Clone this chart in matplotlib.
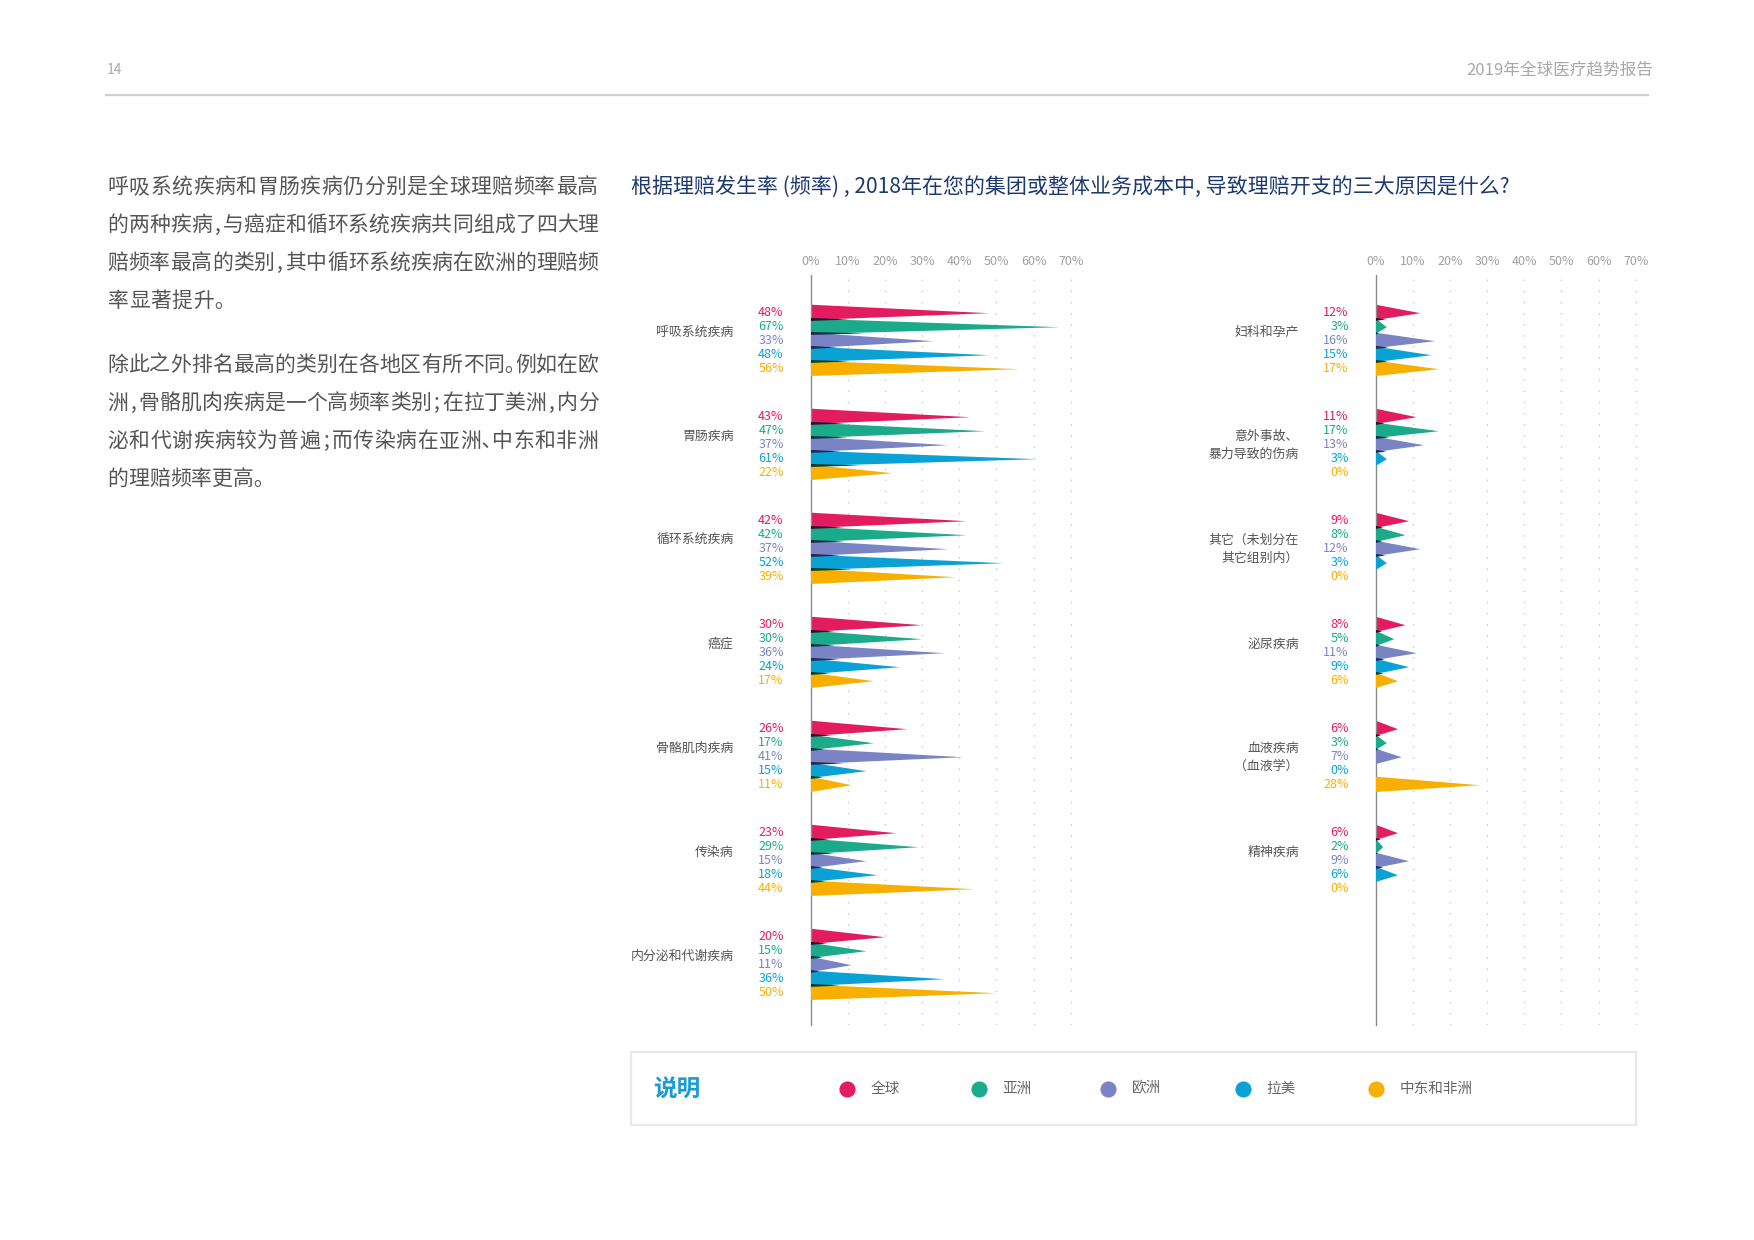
import matplotlib
matplotlib.use("Agg")
import matplotlib.pyplot as plt
import matplotlib.transforms as mtrans
from matplotlib.patches import Rectangle
from matplotlib.lines import Line2D
import numpy as np

plt.rcParams['font.family'] = ['Noto Sans CJK SC', 'DejaVu Sans']

# ---------------- data ----------------
series = ['全球', '亚洲', '欧洲', '拉美', '中东和非洲']
colors = ['#e31c5f', '#1bab8a', '#7a84c4', '#0aa2d4', '#f7b000']
shadow_colors = ['#2b1030', '#0f2f4a', '#22284f', '#0b3b2a', '#3a2a00']

left_cats = ['呼吸系统疾病', '胃肠疾病', '循环系统疾病', '癌症', '骨骼肌肉疾病', '传染病', '内分泌和代谢疾病']
left_vals = [
    [48, 67, 33, 48, 56],
    [43, 47, 37, 61, 22],
    [42, 42, 37, 52, 39],
    [30, 30, 36, 24, 17],
    [26, 17, 41, 15, 11],
    [23, 29, 15, 18, 44],
    [20, 15, 11, 36, 50],
]
right_cats = ['妇科和孕产', '意外事故、\n暴力导致的伤病', '其它（未划分在\n其它组别内）', '泌尿疾病', '血液疾病\n（血液学）', '精神疾病']
right_vals = [
    [12, 3, 16, 15, 17],
    [11, 17, 13, 3, 0],
    [9, 8, 12, 3, 0],
    [8, 5, 11, 9, 6],
    [6, 3, 7, 0, 28],
    [6, 2, 9, 6, 0],
]
ticks = [0, 10, 20, 30, 40, 50, 60, 70]
tick_labels = [f'{t}%' for t in ticks]

title = '根据理赔发生率 (频率) , 2018年在您的集团或整体业务成本中, 导致理赔开支的三大原因是什么?'
para1 = ['呼吸系统疾病和胃肠疾病仍分别是全球理赔频率最高',
         '的两种疾病,与癌症和循环系统疾病共同组成了四大理',
         '赔频率最高的类别,其中循环系统疾病在欧洲的理赔频',
         '率显著提升｡']
para2 = ['除此之外排名最高的类别在各地区有所不同｡例如在欧',
         '洲,骨骼肌肉疾病是一个高频率类别;在拉丁美洲,内分',
         '泌和代谢疾病较为普遍;而传染病在亚洲､中东和非洲',
         '的理赔频率更高｡']
page_no = '14'
report = '2019年全球医疗趋势报告'
legend_title = '说明'

# ---------------- layout ----------------
W, H = 1754, 1240
fig = plt.figure(figsize=(W / 100, H / 100), dpi=100)
fig.patch.set_facecolor('white')

def fx(x):
    return x / W

def fy(y):
    return 1 - y / H

# header
fig.text(fx(107), fy(69.5), page_no, fontsize=10, color='#a8a8a8', va='center', ha='left')
fig.text(fx(1653), fy(69.5), report, fontsize=12, color='#a8a8a8', va='center', ha='right')
fig.add_artist(Line2D([fx(106), fx(1648)], [fy(95), fy(95)], color='#cfcfcf', lw=1.6))

# paragraph, justified line by line (compressed punctuation takes half a cell)
PUNCT = set(',;｡､')
PX0, PX1 = 107.5, 598.5


def draw_para(lines, y0):
    cell_ref = None
    for i, line in enumerate(lines):
        units = sum(0.5 if ch in PUNCT else 1.0 for ch in line)
        last = (i == len(lines) - 1)
        cell = (PX1 - PX0) / units if not last else cell_ref
        if cell_ref is None:
            cell_ref = cell
        x = PX0
        y = y0 + i * 38.0
        for ch in line:
            xo = x + (cell * 0.12 if ch in ',;' else 0)
            fig.text(fx(xo), fy(y), ch, fontsize=15, color='#555555', va='center', ha='left')
            x += cell * (0.5 if ch in PUNCT else 1.0)


draw_para(para1, 187)
draw_para(para2, 365)

# title
fig.text(fx(631), fy(187.5), title, fontsize=15.1, color='#1d3a70', va='center', ha='left')

# chart geometry
PX_PER_PCT = 260 / 70.0
XMAX = 72
AX_TOP, AX_BOT = 275, 1025
ROW0 = 312.7
GROUP_GAP = 104
ROW_GAP = 14


def make_axes(x0):
    ax = fig.add_axes([fx(x0), fy(AX_BOT), XMAX * PX_PER_PCT / W, (AX_BOT - AX_TOP) / H])
    ax.set_xlim(0, XMAX)
    ax.set_ylim(AX_BOT - ROW0, AX_TOP - ROW0)
    ax.set_facecolor('none')
    for s in ['top', 'right', 'bottom']:
        ax.spines[s].set_visible(False)
    ax.spines['left'].set_color('#8a8a8a')
    ax.spines['left'].set_linewidth(1.0)
    ax.xaxis.tick_top()
    ax.set_xticks(ticks)
    ax.set_xticklabels(tick_labels)
    ax.tick_params(axis='x', length=0, pad=5, labelsize=9, labelcolor='#a0a0a0')
    ax.set_yticks([])
    for t in ticks[1:]:
        ax.axvline(t, color='#c8c8c8', lw=1.0, ls=(0, (1, 7)), zorder=0)
    return ax


def draw_panel(ax, cats, vals):
    off_val = mtrans.ScaledTranslation(-27 / 100, 0, fig.dpi_scale_trans)
    off_cat = mtrans.ScaledTranslation(-77 / 100, 0, fig.dpi_scale_trans)
    for g, (cat, row) in enumerate(zip(cats, vals)):
        base = g * GROUP_GAP
        for r, v in enumerate(row):
            y = base + r * ROW_GAP
            if v > 0:
                ax.fill([0, v, 0], [y - 8, y + 0.5, y + 7.3], color=colors[r], lw=0, zorder=2 + r)
                if r < len(row) - 1 and row[r + 1] > 0:
                    ax.fill([0, 0.22 * v, 0], [y + 5.2, y + 6.8, y + 8.2],
                            color=shadow_colors[r], lw=0, zorder=10)
            ax.text(0, y, f'{v}%', transform=ax.transData + off_val, ha='right', va='center',
                    fontsize=9, color=colors[r])
        for i, line in enumerate(cat.split('\n')):
            ax.text(0, base + 19.5 + i * 18, line, transform=ax.transData + off_cat,
                    ha='right', va='center', fontsize=9.3, color='#555555')


ax_l = make_axes(810.7)
draw_panel(ax_l, left_cats, left_vals)
ax_r = make_axes(1375.7)
draw_panel(ax_r, right_cats, right_vals)

# legend box
LX0, LX1, LY0, LY1 = 631, 1636, 1052, 1125
LYC = 1088.5
ax_leg = fig.add_axes([fx(LX0), fy(LY1), (LX1 - LX0) / W, (LY1 - LY0) / H])
ax_leg.set_xlim(LX0, LX1)
ax_leg.set_ylim(LY1, LY0)
ax_leg.axis('off')
ax_leg.add_patch(Rectangle((0, 0), 1, 1, transform=ax_leg.transAxes, facecolor='white',
                           edgecolor='#e8e8e8', lw=1.6, zorder=0, clip_on=False))
ax_leg.text(653, LYC, legend_title, fontsize=17, fontweight='bold', color='#1b9ad6',
            ha='left', va='center', zorder=3)
leg_x = [847, 979, 1108.5, 1243, 1376]
for lx, name, c in zip(leg_x, series, colors):
    ax_leg.scatter([lx], [LYC], s=135, color=c, lw=0, zorder=3, clip_on=False)
    ax_leg.text(lx + 23.5, LYC, name, fontsize=10.5, color='#666666', ha='left', va='center', zorder=3)

fig.savefig('out.png', dpi=100, facecolor='white')
